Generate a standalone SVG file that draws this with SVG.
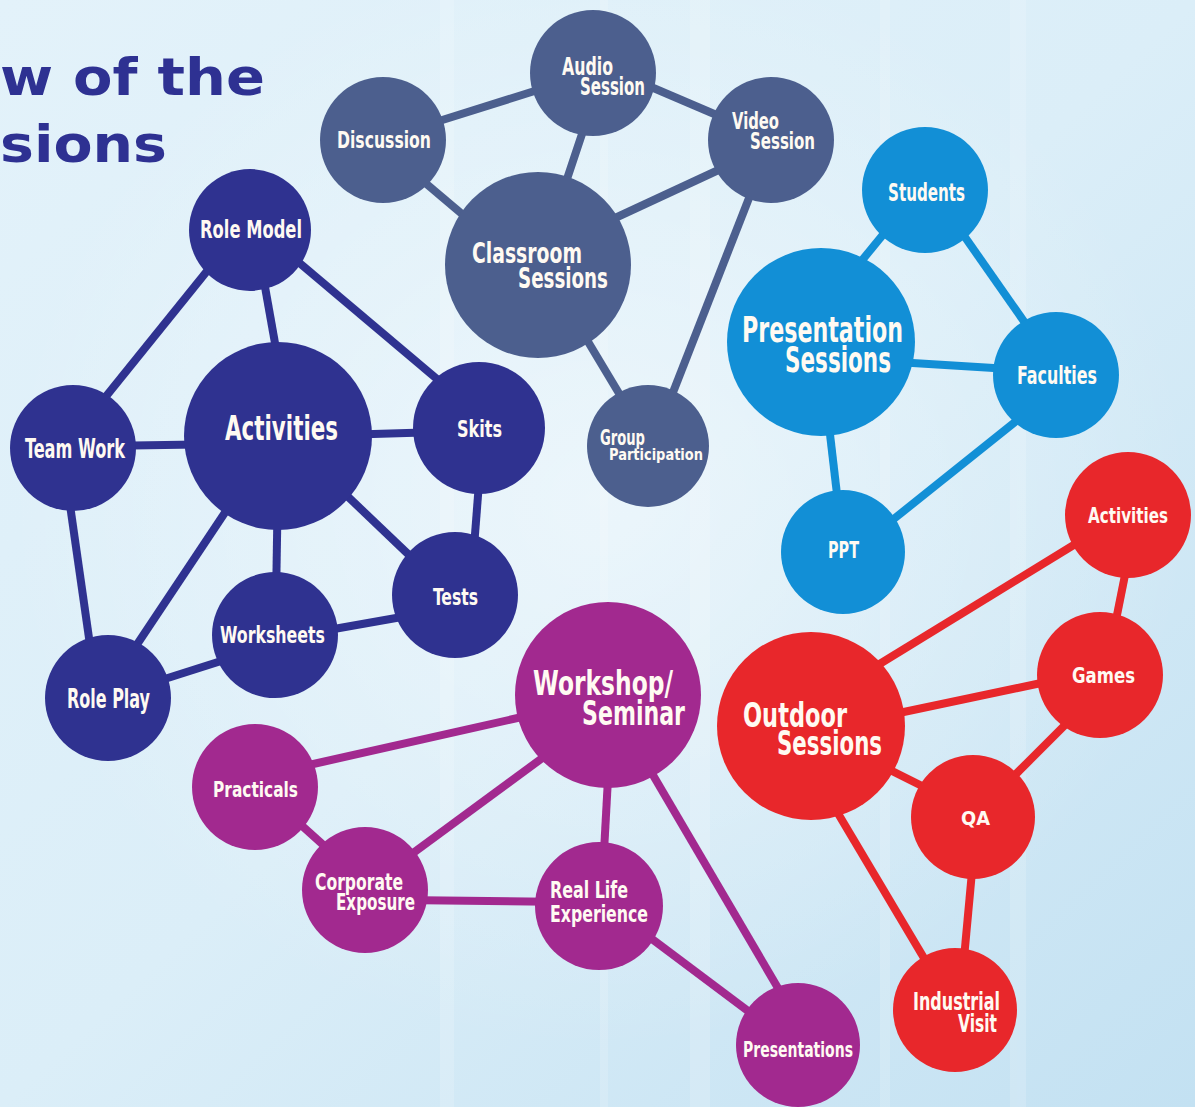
<svg xmlns="http://www.w3.org/2000/svg" width="1195" height="1107" viewBox="0 0 1195 1107">
<defs>
<linearGradient id="bg" x1="0" y1="0" x2="1" y2="1">
<stop offset="0" stop-color="#e3f2fa"/>
<stop offset="0.5" stop-color="#dbeef8"/>
<stop offset="1" stop-color="#c3e1f2"/>
</linearGradient>
<radialGradient id="glow" cx="0.5" cy="0.45" r="0.5">
<stop offset="0" stop-color="#ffffff" stop-opacity="0.45"/>
<stop offset="1" stop-color="#ffffff" stop-opacity="0"/>
</radialGradient>
<style>
.lbl{font-family:"DejaVu Sans Condensed","Liberation Sans Narrow","Liberation Sans",sans-serif;font-weight:bold;fill:#fffaf2}
.title{font-family:"DejaVu Sans","Liberation Sans",sans-serif;font-weight:bold;fill:#2e3192;font-size:52px}
.navy{fill:#2f3290}
.slate{fill:#4c5f8e}
.sky{fill:#128fd6}
.red{fill:#e8272b}
.purp{fill:#a2298f}
.e{stroke-width:8;stroke-linecap:butt;fill:none}
.en{stroke:#2f3290}
.es{stroke:#4c5f8e}
.ek{stroke:#128fd6}
.er{stroke:#e8272b}
.ep{stroke:#a2298f}
</style>
</defs>
<rect width="1195" height="1107" fill="url(#bg)"/>
<rect width="1195" height="1107" fill="url(#glow)"/>
<g opacity="0.16" fill="#ffffff">
<rect x="440" y="0" width="14" height="1107"/>
<rect x="600" y="0" width="8" height="1107"/>
<rect x="690" y="0" width="20" height="1107"/>
<rect x="880" y="0" width="10" height="1107"/>
<rect x="1010" y="0" width="16" height="1107"/>
</g>

<g id="title">
<text class="title" x="0" y="95" textLength="265" lengthAdjust="spacingAndGlyphs">w of the</text>
<text class="title" x="0" y="162" textLength="167" lengthAdjust="spacingAndGlyphs">sions</text>
</g>

<g id="connectors">
<!-- navy -->
<line class="e en" x1="220" y1="255" x2="95" y2="410"/>
<line class="e en" x1="262" y1="270" x2="278" y2="360"/>
<line class="e en" x1="290" y1="255" x2="450" y2="390"/>
<line class="e en" x1="100" y1="446" x2="230" y2="444"/>
<line class="e en" x1="340" y1="435" x2="440" y2="432"/>
<line class="e en" x1="278" y1="480" x2="276" y2="600"/>
<line class="e en" x1="320" y1="470" x2="430" y2="575"/>
<line class="e en" x1="240" y1="490" x2="120" y2="670"/>
<line class="e en" x1="65" y1="470" x2="95" y2="680"/>
<line class="e en" x1="480" y1="470" x2="473" y2="560"/>
<line class="e en" x1="430" y1="612" x2="300" y2="635"/>
<line class="e en" x1="240" y1="655" x2="130" y2="690"/>
<!-- slate -->
<line class="e es" x1="420" y1="127" x2="560" y2="83"/>
<line class="e es" x1="410" y1="170" x2="475" y2="225"/>
<line class="e es" x1="590" y1="110" x2="560" y2="200"/>
<line class="e es" x1="630" y1="78" x2="740" y2="125"/>
<line class="e es" x1="600" y1="225" x2="740" y2="160"/>
<line class="e es" x1="760" y1="170" x2="670" y2="400"/>
<line class="e es" x1="575" y1="320" x2="635" y2="420"/>
<!-- sky -->
<line class="e ek" x1="895" y1="220" x2="850" y2="275"/>
<line class="e ek" x1="960" y1="230" x2="1030" y2="330"/>
<line class="e ek" x1="880" y1="361" x2="1010" y2="369"/>
<line class="e ek" x1="826" y1="400" x2="840" y2="520"/>
<line class="e ek" x1="1030" y1="410" x2="880" y2="530"/>
<!-- red -->
<line class="e er" x1="860" y1="676" x2="1090" y2="535"/>
<line class="e er" x1="880" y1="717" x2="1060" y2="679"/>
<line class="e er" x1="1080" y1="710" x2="1000" y2="790"/>
<line class="e er" x1="870" y1="760" x2="950" y2="800"/>
<line class="e er" x1="830" y1="800" x2="940" y2="985"/>
<line class="e er" x1="974" y1="850" x2="962" y2="980"/>
<line class="e er" x1="1128" y1="560" x2="1112" y2="640"/>
<!-- purple -->
<line class="e ep" x1="300" y1="767" x2="540" y2="713"/>
<line class="e ep" x1="390" y1="870" x2="560" y2="745"/>
<line class="e ep" x1="290" y1="815" x2="340" y2="860"/>
<line class="e ep" x1="400" y1="900" x2="570" y2="902"/>
<line class="e ep" x1="609" y1="760" x2="603" y2="870"/>
<line class="e ep" x1="650" y1="770" x2="785" y2="1000"/>
<line class="e ep" x1="640" y1="930" x2="760" y2="1020"/>
</g>

<!-- navy cluster -->
<g id="role-model"><circle class="navy" cx="250" cy="230" r="61"/><text class="lbl" x="200" y="238" font-size="24" textLength="102" lengthAdjust="spacingAndGlyphs">Role Model</text></g>
<g id="activities"><circle class="navy" cx="278" cy="436" r="94"/><text class="lbl" x="225" y="440" font-size="34" textLength="113" lengthAdjust="spacingAndGlyphs">Activities</text></g>
<g id="team-work"><circle class="navy" cx="73" cy="448" r="63"/><text class="lbl" x="25" y="458" font-size="26" textLength="100" lengthAdjust="spacingAndGlyphs">Team Work</text></g>
<g id="skits"><circle class="navy" cx="479" cy="428" r="66"/><text class="lbl" x="457" y="437" font-size="23" textLength="45" lengthAdjust="spacingAndGlyphs">Skits</text></g>
<g id="tests"><circle class="navy" cx="455" cy="595" r="63"/><text class="lbl" x="433" y="605" font-size="23" textLength="45" lengthAdjust="spacingAndGlyphs">Tests</text></g>
<g id="worksheets"><circle class="navy" cx="275" cy="635" r="63"/><text class="lbl" x="220" y="643" font-size="23" textLength="105" lengthAdjust="spacingAndGlyphs">Worksheets</text></g>
<g id="role-play"><circle class="navy" cx="108" cy="698" r="63"/><text class="lbl" x="67" y="708" font-size="26" textLength="83" lengthAdjust="spacingAndGlyphs">Role Play</text></g>

<!-- slate cluster -->
<g id="discussion"><circle class="slate" cx="383" cy="140" r="63"/><text class="lbl" x="337" y="148" font-size="23" textLength="94" lengthAdjust="spacingAndGlyphs">Discussion</text></g>
<g id="audio-session"><circle class="slate" cx="593" cy="73" r="63"/><text class="lbl" x="562" y="75" font-size="24" textLength="51" lengthAdjust="spacingAndGlyphs">Audio</text><text class="lbl" x="580" y="95" font-size="24" textLength="65" lengthAdjust="spacingAndGlyphs">Session</text></g>
<g id="video-session"><circle class="slate" cx="771" cy="140" r="63"/><text class="lbl" x="732" y="129" font-size="23" textLength="47" lengthAdjust="spacingAndGlyphs">Video</text><text class="lbl" x="750" y="149" font-size="23" textLength="65" lengthAdjust="spacingAndGlyphs">Session</text></g>
<g id="classroom-sessions"><circle class="slate" cx="538" cy="265" r="93"/><text class="lbl" x="472" y="263" font-size="28" textLength="110" lengthAdjust="spacingAndGlyphs">Classroom</text><text class="lbl" x="518" y="288" font-size="28" textLength="90" lengthAdjust="spacingAndGlyphs">Sessions</text></g>
<g id="group-participation"><circle class="slate" cx="648" cy="446" r="61"/><text class="lbl" x="600" y="445" font-size="22" textLength="45" lengthAdjust="spacingAndGlyphs">Group</text><text class="lbl" x="609" y="460" font-size="15" textLength="94" lengthAdjust="spacingAndGlyphs">Participation</text></g>

<!-- sky cluster -->
<g id="students"><circle class="sky" cx="925" cy="190" r="63"/><text class="lbl" x="888" y="201" font-size="24" textLength="77" lengthAdjust="spacingAndGlyphs">Students</text></g>
<g id="presentation-sessions"><circle class="sky" cx="821" cy="342" r="94"/><text class="lbl" x="742" y="342" font-size="36" textLength="161" lengthAdjust="spacingAndGlyphs">Presentation</text><text class="lbl" x="785" y="372" font-size="36" textLength="106" lengthAdjust="spacingAndGlyphs">Sessions</text></g>
<g id="faculties"><circle class="sky" cx="1056" cy="375" r="63"/><text class="lbl" x="1017" y="384" font-size="24" textLength="80" lengthAdjust="spacingAndGlyphs">Faculties</text></g>
<g id="ppt"><circle class="sky" cx="843" cy="552" r="62"/><text class="lbl" x="828" y="558" font-size="23" textLength="31" lengthAdjust="spacingAndGlyphs">PPT</text></g>

<!-- red cluster -->
<g id="outdoor-activities"><circle class="red" cx="1128" cy="515" r="63"/><text class="lbl" x="1088" y="523" font-size="22" textLength="80" lengthAdjust="spacingAndGlyphs">Activities</text></g>
<g id="games"><circle class="red" cx="1100" cy="675" r="63"/><text class="lbl" x="1072" y="683" font-size="22" textLength="63" lengthAdjust="spacingAndGlyphs">Games</text></g>
<g id="outdoor-sessions"><circle class="red" cx="811" cy="726" r="94"/><text class="lbl" x="743" y="727" font-size="34" textLength="104" lengthAdjust="spacingAndGlyphs">Outdoor</text><text class="lbl" x="777" y="755" font-size="34" textLength="105" lengthAdjust="spacingAndGlyphs">Sessions</text></g>
<g id="qa"><circle class="red" cx="973" cy="817" r="62"/><text class="lbl" x="961" y="825" font-size="19" textLength="29" lengthAdjust="spacingAndGlyphs">QA</text></g>
<g id="industrial-visit"><circle class="red" cx="955" cy="1010" r="62"/><text class="lbl" x="913" y="1010" font-size="24" textLength="87" lengthAdjust="spacingAndGlyphs">Industrial</text><text class="lbl" x="958" y="1032" font-size="24" textLength="39" lengthAdjust="spacingAndGlyphs">Visit</text></g>

<!-- purple cluster -->
<g id="workshop-seminar"><circle class="purp" cx="608" cy="695" r="93"/><text class="lbl" x="533" y="695" font-size="34" textLength="140" lengthAdjust="spacingAndGlyphs">Workshop/</text><text class="lbl" x="582" y="725" font-size="34" textLength="103" lengthAdjust="spacingAndGlyphs">Seminar</text></g>
<g id="practicals"><circle class="purp" cx="255" cy="787" r="63"/><text class="lbl" x="213" y="797" font-size="22" textLength="85" lengthAdjust="spacingAndGlyphs">Practicals</text></g>
<g id="corporate-exposure"><circle class="purp" cx="365" cy="890" r="63"/><text class="lbl" x="315" y="890" font-size="23" textLength="88" lengthAdjust="spacingAndGlyphs">Corporate</text><text class="lbl" x="336" y="910" font-size="23" textLength="79" lengthAdjust="spacingAndGlyphs">Exposure</text></g>
<g id="real-life-experience"><circle class="purp" cx="599" cy="906" r="64"/><text class="lbl" x="550" y="898" font-size="23" textLength="78" lengthAdjust="spacingAndGlyphs">Real Life</text><text class="lbl" x="550" y="922" font-size="23" textLength="98" lengthAdjust="spacingAndGlyphs">Experience</text></g>
<g id="presentations"><circle class="purp" cx="798" cy="1045" r="62"/><text class="lbl" x="743" y="1057" font-size="22" textLength="110" lengthAdjust="spacingAndGlyphs">Presentations</text></g>
</svg>
